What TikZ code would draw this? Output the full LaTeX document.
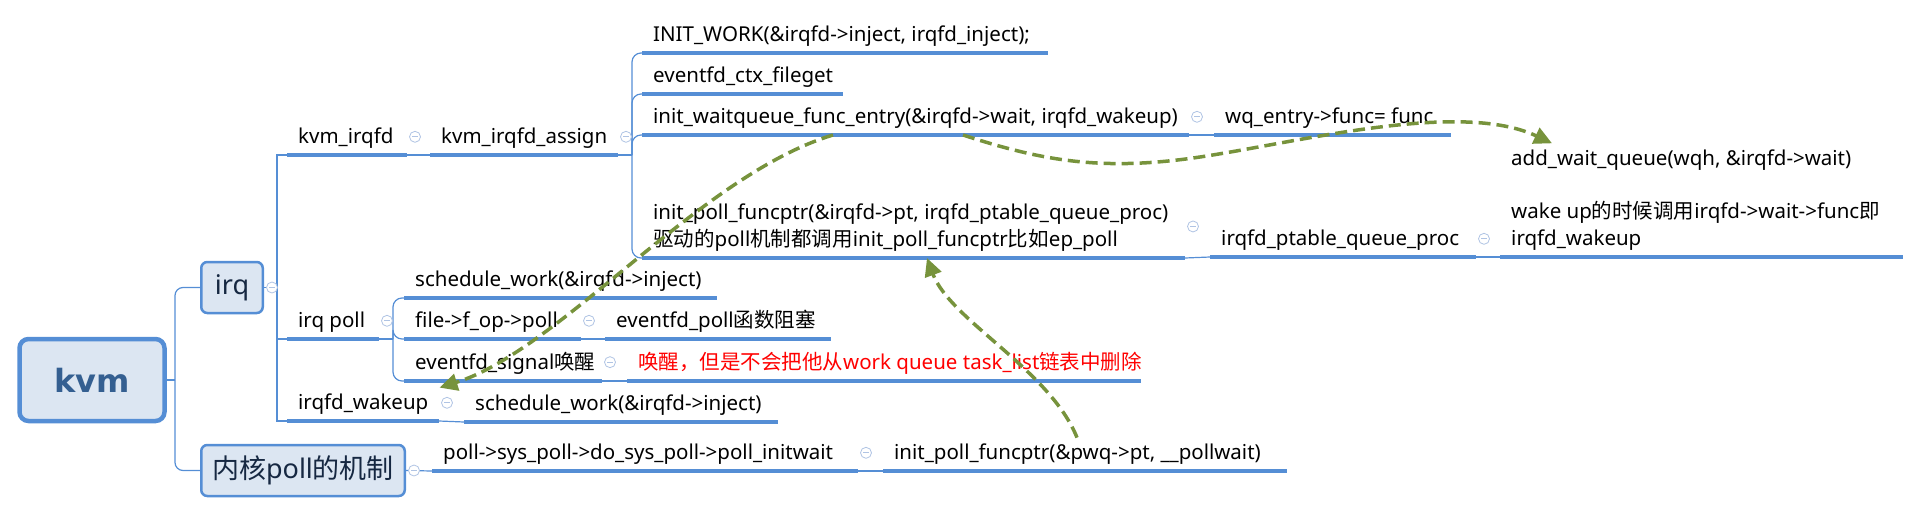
\documentclass[tikz,border=0pt]{standalone}
\usepackage{fontspec}
\setmainfont{Noto Sans}
\newfontfamily\cjk{Noto Sans CJK SC}
\newfontfamily\headfont{DejaVu Sans}
\usetikzlibrary{arrows.meta, positioning, calc}

\definecolor{boxfill}{RGB}{220,230,242}
\definecolor{boxline}{RGB}{85,142,213}
\definecolor{linkblue}{RGB}{85,142,213}
\definecolor{foldgray}{RGB}{176,196,228}
\definecolor{hintgreen}{RGB}{119,147,60}
\definecolor{titleblue}{RGB}{52,95,145}
\definecolor{boxtext}{RGB}{22,40,66}

\newcommand{\mmstrut}{\rule[-5pt]{0pt}{21pt}}
\newcommand{\topicfont}{\fontsize{20.5}{27}\selectfont}

\tikzstyle{root} = [rectangle, rounded corners=9pt, draw=boxline, line width=4.5pt, fill=boxfill, minimum width=145pt, minimum height=82pt, text=titleblue, font=\headfont\fontsize{32}{32}\selectfont\bfseries]
\tikzstyle{branch} = [rectangle, rounded corners=6pt, draw=boxline, line width=2.5pt, fill=boxfill, minimum height=51pt, text=boxtext, font=\fontsize{27}{27}\selectfont]
\tikzstyle{topic} = [anchor=south west, inner xsep=11pt, inner ysep=6pt, align=left, font=\topicfont, execute at begin node=\mmstrut, execute at end node=\mmstrut]
\tikzstyle{note} = [anchor=west, inner xsep=11pt, inner ysep=6pt, font=\topicfont, execute at begin node=\mmstrut]
\tikzstyle{fold} = [circle, draw=foldgray, fill=white, line width=0.8pt, minimum size=11pt, inner sep=0pt, path picture={\draw[foldgray, line width=0.8pt] ([xshift=-3pt]path picture bounding box.center) -- ([xshift=3pt]path picture bounding box.center);}]
\tikzstyle{uline} = [draw=linkblue, line width=3.5pt]
\tikzstyle{link} = [draw=linkblue, line width=1.2pt]
\tikzstyle{hint} = [draw=hintgreen, line width=3.5pt, dash pattern=on 12pt off 6pt, -{Triangle[length=18pt, width=17pt]}]

\begin{document}
\begin{tikzpicture}[x=1pt, y=-1pt]
    \useasboundingbox (0,0) rectangle (1920,514);
    % main branches
    \node (kvm) [root] at (92,380) {kvm};
    \node (irq) [branch, minimum width=61.5pt] at (232,287.5) {irq};
    \node (kpoll) [branch, minimum width=203.5pt] at (303,470.5) {{\cjk 内核}poll{\cjk 的机制}};

    % irq
    \node (kvmirqfd) [topic] at (287,155) {kvm\_irqfd};
    \node (irqpoll) [topic] at (287,339) {irq poll};
    \node (irqwakeup) [topic] at (287,421) {irqfd\_wakeup};
    \node (assign) [topic] at (430,155) {kvm\_irqfd\_assign};
    \node (initwork) [topic] at (642,53) {INIT\_WORK(\&irqfd->inject, irqfd\_inject);};
    \node (fileget) [topic] at (642,94) {eventfd\_ctx\_fileget};
    \node (waitq) [topic] at (642,135) {init\_waitqueue\_func\_entry(\&irqfd->wait, irqfd\_wakeup)};
    \node (pollfn) [topic] at (642,258) {init\_poll\_funcptr(\&irqfd->pt, irqfd\_ptable\_queue\_proc)\\{\cjk 驱动的}poll{\cjk 机制都调用}init\_poll\_funcptr{\cjk 比如}ep\_poll};
    \node (funcset) [topic] at (1214,135) {wq\_entry->func= func};
    \node (ptable) [topic] at (1210,257) {irqfd\_ptable\_queue\_proc};
    \node (wakecall) [topic] at (1500,257) {wake up{\cjk 的时候调用}irqfd->wait->func{\cjk 即}\\irqfd\_wakeup};
    \node (addwait) [note] at (1500,160) {add\_wait\_queue(wqh, \&irqfd->wait)};
    \node (schedA) [topic] at (404,298) {schedule\_work(\&irqfd->inject)};
    \node (fileop) [topic] at (404,339) {file->f\_op->poll};
    \node (signal) [topic] at (404,381) {eventfd\_signal{\cjk 唤醒}};
    \node (pollwait) [topic] at (605,339) {eventfd\_poll{\cjk 函数阻塞}};
    \node (nodel) [topic, text=red] at (627,381) {{\cjk 唤醒，但是不会把他从}work queue task\_list{\cjk 链表中删除}};
    \node (schedB) [topic] at (464,422) {schedule\_work(\&irqfd->inject)};

    % kernel poll
    \node (syspoll) [topic] at (432,471) {poll->sys\_poll->do\_sys\_poll->poll\_initwait};
    \node (pwq) [topic] at (883,471) {init\_poll\_funcptr(\&pwq->pt, \_\_pollwait)};

    % underlines, ends kept as <name>-end
    \foreach \n/\len in {kvmirqfd/120, irqpoll/92, irqwakeup/152, assign/188, initwork/406, fileget/201, waitq/547, pollfn/543, funcset/237, ptable/266, wakecall/403, schedA/313, fileop/177, signal/198, pollwait/226, nodel/514, schedB/314, syspoll/426, pwq/404}
        \draw [uline] (\n.south west) -- ++(\len,0) coordinate (\n-end);

    \coordinate (kvmfork) at (175,380);
    \coordinate (irqfork) at (277,287.5);
    \coordinate (assignfork) at (632,155);
    \coordinate (pollfork) at (393,339);

    \draw [link] (kvm.east) -- (kvmfork);
    \draw [link, rounded corners=8pt] (kvmfork) |- (irq.west);
    \draw [link, rounded corners=8pt] (kvmfork) |- (kpoll.west);
    \draw [link] (irq.east) -- (irqfork);
    \foreach \n in {kvmirqfd, irqpoll, irqwakeup}
        \draw [link] (irqfork) |- (\n.south west);
    \draw [link] (kvmirqfd-end) -- (assign.south west);
    \draw [link] (assign-end) -- (assignfork);
    \foreach \n in {initwork, fileget, waitq, pollfn}
        \draw [link, rounded corners=9pt] (assignfork) |- (\n.south west);
    \draw [link] (irqpoll-end) -- (pollfork);
    \foreach \n in {schedA, fileop, signal}
        \draw [link, rounded corners=9pt] (pollfork) |- (\n.south west);
    \draw [link] (fileop-end) -- (pollwait.south west);
    \draw [link] (signal-end) -- (nodel.south west);
    \draw [link] (irqwakeup-end) -- (schedB.south west);
    \draw [link] (waitq-end) -- (funcset.south west);
    \draw [link] (pollfn-end) -- (ptable.south west);
    \draw [link] (ptable-end) -- (wakecall.south west);
    \draw [link] (kpoll.east) -- (syspoll.south west);
    \draw [link] (syspoll-end) -- (pwq.south west);

    % redraw underlines over the links
    \foreach \n in {kvmirqfd, irqpoll, irqwakeup, assign, initwork, fileget, waitq, pollfn, funcset, ptable, wakecall, schedA, fileop, signal, pollwait, nodel, schedB, syspoll, pwq}
        \draw [uline] (\n.south west) -- (\n-end);

    % fold marks
    \node (fold-irq) [fold] at ([xshift=8pt]irq.east) {};
    \node (fold-kpoll) [fold] at ([xshift=8pt]kpoll.east) {};
    \foreach \n in {kvmirqfd, assign, waitq, pollfn, ptable, irqpoll, fileop, signal, irqwakeup, syspoll}
        \node (fold-\n) [fold] at ($(\n-end |- \n.east)+(8,-1.5)$) {};

    % call hints
    \draw [hint] ([xshift=191pt]waitq.south west) .. controls (700,175) and (560,350) .. (irqwakeup.north east);
    \draw [hint] ([xshift=321pt]waitq.south west) .. controls (1040,160) and (1100,172) .. (1200,157) .. controls (1300,142) and (1460,100) .. ([xshift=52pt]addwait.north west);
    \draw [hint] ([xshift=194pt]pwq.north west) .. controls (1050,370) and (950,320) .. ([xshift=285pt]pollfn.south west);
\end{tikzpicture}
\end{document}
